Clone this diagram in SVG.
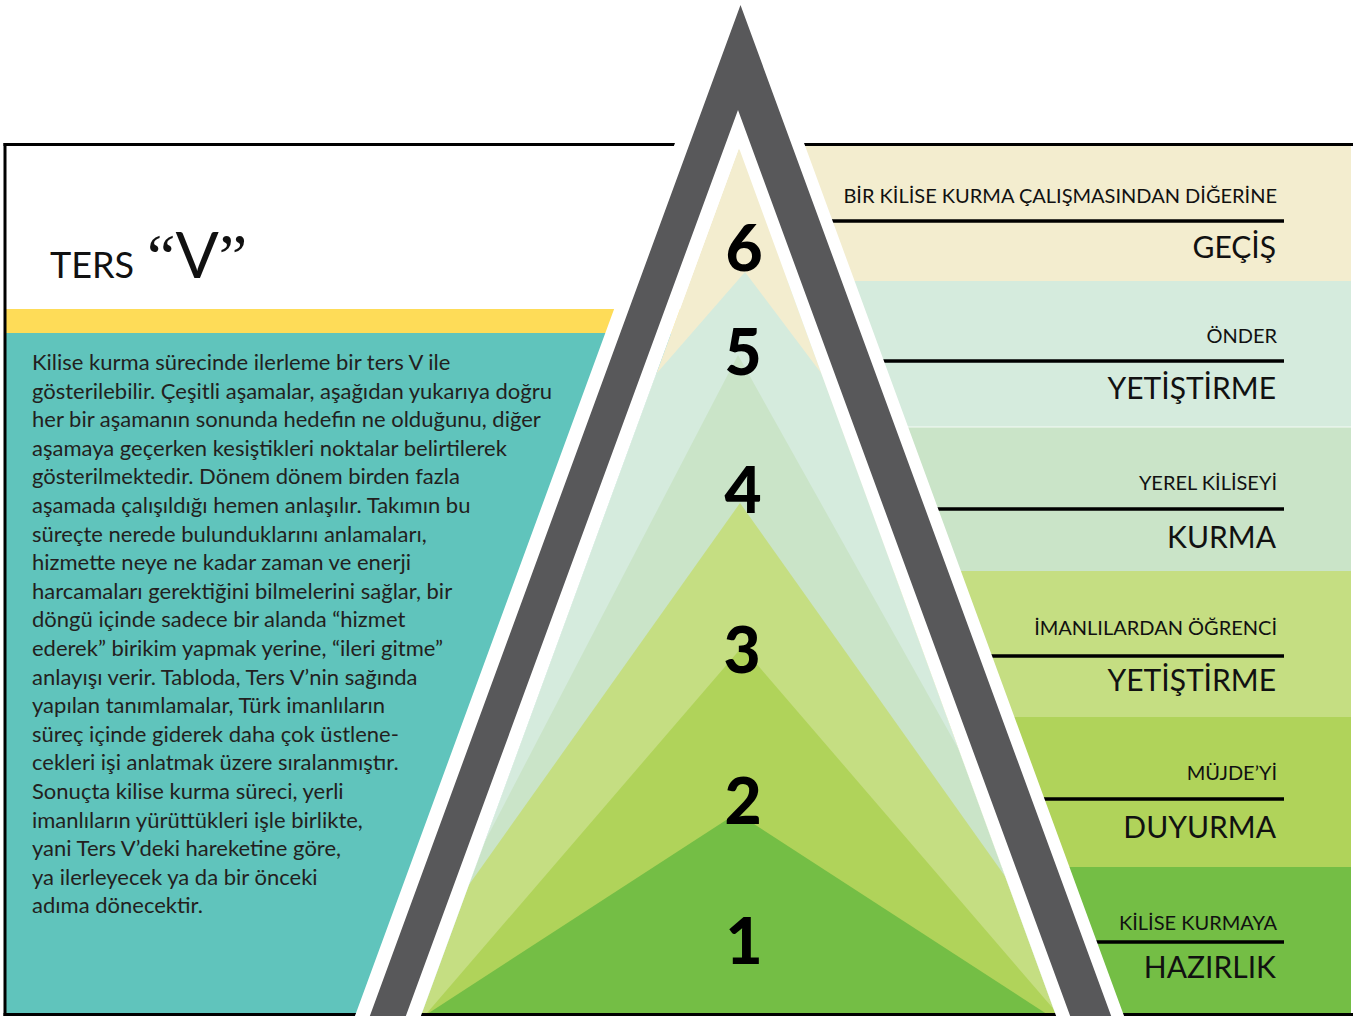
<svg xmlns="http://www.w3.org/2000/svg" width="1353" height="1016" viewBox="0 0 1353 1016">
<defs>
<style>
.body{font-family:Lato,"Open Sans",sans-serif;font-size:22px;fill:#231F20;}
.sm{font-family:Lato,"Open Sans",sans-serif;font-size:20px;fill:#111;text-anchor:end;}
.lg{font-family:Lato,"Open Sans",sans-serif;font-size:30px;fill:#111;text-anchor:end;}
.num{font-family:Lato,"Open Sans",sans-serif;font-weight:900;font-size:64px;fill:#000;text-anchor:middle;}
.rule{stroke:#000;stroke-width:3.5;}
.frame{stroke:#000;stroke-width:3;fill:none;}
</style>
<clipPath id="pyr"><path d="M739,148 L1057.6,1020 L419.4,1020 Z"/></clipPath>
</defs>
<rect x="0" y="0" width="1353" height="1016" fill="#fff"/>
<g id="left-panel">
<rect x="5" y="309" width="740" height="24" fill="#FEDC58"/>
<rect x="5" y="333" width="740" height="681" fill="#60C4BC"/>
</g>
<g id="right-bands">
<rect x="740" y="146" width="611" height="135" fill="#F3EDCF"/>
<rect x="740" y="281" width="611" height="146" fill="#D5EBDD"/>
<rect x="740" y="427" width="611" height="144" fill="#CAE4C8"/>
<line x1="740" y1="427" x2="1351" y2="427" stroke="#fff" stroke-width="1" opacity="0.8"/>
<rect x="740" y="571" width="611" height="146" fill="#C5DE82"/>
<rect x="740" y="717" width="611" height="150" fill="#B0D35A"/>
<rect x="740" y="867" width="611" height="147" fill="#74BE45"/>
</g>
<g id="connectors">
<line class="rule" x1="828" y1="221" x2="1284" y2="221"/>
<line class="rule" x1="880" y1="361" x2="1284" y2="361"/>
<line class="rule" x1="933" y1="509" x2="1284" y2="509"/>
<line class="rule" x1="987" y1="656" x2="1284" y2="656"/>
<line class="rule" x1="1040" y1="799" x2="1284" y2="799"/>
<line class="rule" x1="1093" y1="942" x2="1284" y2="942"/>
</g>
<g id="frame">
<line class="frame" x1="3.5" y1="144.5" x2="1353" y2="144.5"/>
<line class="frame" x1="5" y1="143" x2="5" y2="1016"/>
</g>
<g id="pyramid" clip-path="url(#pyr)">
<rect x="400" y="140" width="700" height="890" fill="#F3EDCF"/>
<path d="M745,272 L1308,1020 L93.5,1020 Z" fill="#D5EBDD"/>
<path d="M738,355 L1110,1020 L392,1020 Z" fill="#CAE4C8"/>
<path d="M740,503 L1107,1020 L373,1020 Z" fill="#C5DE82"/>
<path d="M742,647 L1063,1020 L421,1020 Z" fill="#B0D35A"/>
<path d="M737,813 L1056,1020 L418,1020 Z" fill="#74BE45"/>
</g>
<line class="frame" x1="3.5" y1="1014.5" x2="1353" y2="1014.5"/>
<g id="v-frame">
<path d="M739.5,-33 L1129.2,1030 L349.8,1030 Z M739,148 L1057.6,1020 L419.4,1020 Z" fill="#fff" fill-rule="evenodd"/>
<path d="M740.5,5 L1116.3,1030 L364.7,1030 Z M738,110 L1075.3,1030 L400.7,1030 Z" fill="#58585A" fill-rule="evenodd"/>
</g>
<g id="title">
<text x="50" y="278" style="font-family:Lato,'Open Sans',sans-serif;font-size:36px;fill:#111">TERS</text>
<text x="147" y="278" style="font-size:64px;fill:#111"><tspan style="font-family:'Liberation Serif',serif">“</tspan><tspan style="font-family:Lato,'Open Sans',sans-serif">V</tspan><tspan style="font-family:'Liberation Serif',serif">”</tspan></text>
</g>
<g id="description">
<text class="body" x="32" y="370">Kilise kurma sürecinde ilerleme bir ters V ile</text>
<text class="body" x="32" y="398.6">gösterilebilir. Çeşitli aşamalar, aşağıdan yukarıya doğru</text>
<text class="body" x="32" y="427.2">her bir aşamanın sonunda hedefin ne olduğunu, diğer</text>
<text class="body" x="32" y="455.8">aşamaya geçerken kesiştikleri noktalar belirtilerek</text>
<text class="body" x="32" y="484.4">gösterilmektedir. Dönem dönem birden fazla</text>
<text class="body" x="32" y="513">aşamada çalışıldığı hemen anlaşılır. Takımın bu</text>
<text class="body" x="32" y="541.6">süreçte nerede bulunduklarını anlamaları,</text>
<text class="body" x="32" y="570.2">hizmette neye ne kadar zaman ve enerji</text>
<text class="body" x="32" y="598.8">harcamaları gerektiğini bilmelerini sağlar, bir</text>
<text class="body" x="32" y="627.4">döngü içinde sadece bir alanda “hizmet</text>
<text class="body" x="32" y="656">ederek” birikim yapmak yerine, “ileri gitme”</text>
<text class="body" x="32" y="684.6">anlayışı verir. Tabloda, Ters V’nin sağında</text>
<text class="body" x="32" y="713.2">yapılan tanımlamalar, Türk imanlıların</text>
<text class="body" x="32" y="741.8">süreç içinde giderek daha çok üstlene-</text>
<text class="body" x="32" y="770.4">cekleri işi anlatmak üzere sıralanmıştır.</text>
<text class="body" x="32" y="799">Sonuçta kilise kurma süreci, yerli</text>
<text class="body" x="32" y="827.6">imanlıların yürüttükleri işle birlikte,</text>
<text class="body" x="32" y="856.2">yani Ters V’deki hareketine göre,</text>
<text class="body" x="32" y="884.8">ya ilerleyecek ya da bir önceki</text>
<text class="body" x="32" y="913.4">adıma dönecektir.</text>
</g>
<g id="stage-6">
<text class="num" x="744" y="271">6</text>
<text class="sm" x="1277" y="203">BİR KİLİSE KURMA ÇALIŞMASINDAN DİĞERİNE</text>
<text class="lg" x="1276" y="258">GEÇİŞ</text>
</g>
<g id="stage-5">
<text class="num" x="743" y="375">5</text>
<text class="sm" x="1277" y="343">ÖNDER</text>
<text class="lg" x="1276" y="399">YETİŞTİRME</text>
</g>
<g id="stage-4">
<text class="num" x="743" y="513">4</text>
<text class="sm" x="1277" y="490">YEREL KİLİSEYİ</text>
<text class="lg" x="1276" y="548">KURMA</text>
</g>
<g id="stage-3">
<text class="num" x="742" y="673">3</text>
<text class="sm" x="1277" y="635">İMANLILARDAN ÖĞRENCİ</text>
<text class="lg" x="1276" y="691">YETİŞTİRME</text>
</g>
<g id="stage-2">
<text class="num" x="743" y="824">2</text>
<text class="sm" x="1277" y="780">MÜJDE’Yİ</text>
<text class="lg" x="1276" y="838">DUYURMA</text>
</g>
<g id="stage-1">
<text class="num" x="744" y="964">1</text>
<text class="sm" x="1277" y="930">KİLİSE KURMAYA</text>
<text class="lg" x="1276" y="978">HAZIRLIK</text>
</g>
</svg>
